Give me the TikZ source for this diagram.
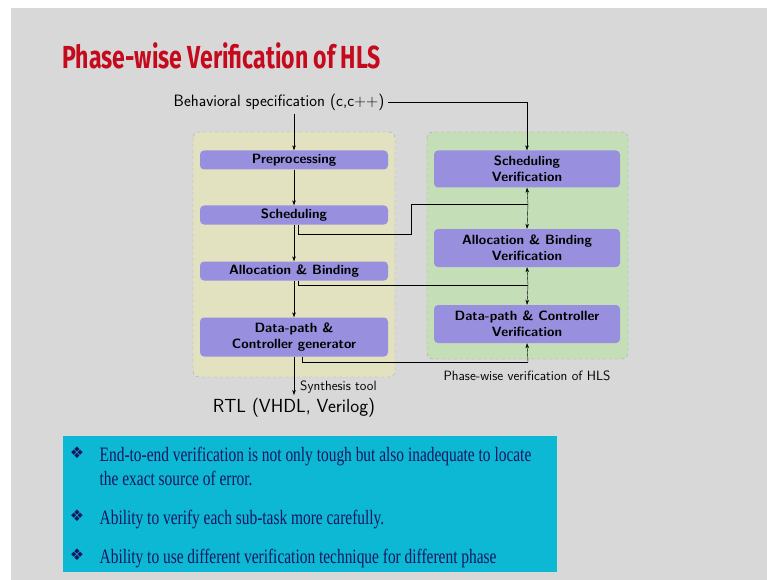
\documentclass[tikz,border=0pt]{standalone}
\usepackage{fontspec}
\newfontfamily\titlefont{Fira Sans}
\newfontfamily\bodyfont{Liberation Serif}
\newfontfamily\symfont{DejaVu Sans}
\usetikzlibrary{arrows.meta, positioning, calc}
\definecolor{slidegray}{RGB}{216,216,216}
\definecolor{titlered}{RGB}{196,10,28}
\definecolor{synthyellow}{RGB}{226,226,192}
\definecolor{verifgreen}{RGB}{196,222,184}
\definecolor{boxpurple}{RGB}{152,144,222}
\definecolor{notecyan}{RGB}{12,184,212}
\definecolor{notenavy}{RGB}{22,22,96}

\begin{document}
\begin{tikzpicture}[
    x=1bp, y=-1bp,
    >={Stealth[length=5bp, width=3.5bp]},
    phase/.style={fill=boxpurple, rounded corners=4bp, minimum width=188bp, inner sep=1bp,
        align=center, font=\sffamily\bfseries\fontsize{13.5}{16}\selectfont},
    container/.style={dashed, draw=gray!70, rounded corners=6bp},
    flow/.style={->, thin},
    small/.style={font=\sffamily\fontsize{13.5}{16}\selectfont},
    bullet/.style={anchor=center, text=notenavy, font=\symfont\fontsize{16}{16}\selectfont},
    note/.style={anchor=base west, text=notenavy, xscale=0.755, font=\bodyfont\fontsize{20.5}{24}\selectfont},
]
    % slide background
    \useasboundingbox (0,0) rectangle (767,580);
    \fill[white] (0,0) rectangle (767,580);
    \fill[slidegray] (11,8) rectangle (767,580);
    \node[anchor=base west, text=titlered, xscale=0.723, font=\titlefont\bfseries\fontsize{32}{36}\selectfont]
        (title) at (60,69) {Phase-wise Verification of HLS};

    % containers
    \draw[container, fill=synthyellow] (193,132) rectangle (395,377);
    \draw[container, fill=verifgreen] (427,132) rectangle (628,359);

    % synthesis flow
    \node[font=\sffamily\fontsize{16.5}{19}\selectfont] (spec) at (279,102) {Behavioral specification (c,c++)};
    \node[phase, minimum height=19bp] (pre) at (294,160) {Preprocessing};
    \node[phase, minimum height=19bp] (sch) at (294,215) {Scheduling};
    \node[phase, minimum height=19bp] (ab) at (294,271) {Allocation \& Binding};
    \node[phase, minimum height=39bp] (dp) at (294,337) {Data-path \&\\Controller generator};
    \node[font=\sffamily\fontsize{19}{22}\selectfont] (rtl) at (294,408) {RTL (VHDL, Verilog)};

    % verification flow
    \node[phase, minimum width=186bp, minimum height=37bp] (schv) at (527,169) {Scheduling\\Verification};
    \node[phase, minimum width=186bp, minimum height=38bp] (abv) at (527,248) {Allocation \& Binding\\Verification};
    \node[phase, minimum width=186bp, minimum height=38bp] (dpv) at (527,324) {Data-path \& Controller\\Verification};
    \node[small] (phl) at (527,376) {Phase-wise verification of HLS};

    % connectors
    \draw[flow] (pre.north |- spec.south) -- (pre.north);
    \draw[flow] (pre) -- (sch);
    \draw[flow] (sch) -- (ab);
    \draw[flow] (ab) -- (dp);
    \draw[flow] (dp) -- node[pos=0.8, right, xshift=4bp, inner sep=2bp, small]{Synthesis tool} (rtl);
    \draw[flow] (spec.east) -| (schv.north);

    \coordinate (schj) at (528,204);
    \coordinate (abj) at (528,285);
    \coordinate (dpj) at (528,362);
    \draw ($(sch.south)+(4,0)$) |- (411,234) |- (schj);
    \draw[flow] (schj) -- (schv.south);
    \draw[flow] (schj) -- (abv.north);
    \draw ($(ab.south)+(4,0)$) |- (abj);
    \draw[flow] (abj) -- (abv.south);
    \draw[flow] (abj) -- (dpv.north);
    \draw ($(dp.south)+(8,0)$) |- (dpj);
    \draw[flow] (dpj) -- (dpv.south);

    % notes
    \fill[notecyan] (63,436) rectangle (557,572);
    \node[bullet] (b1) at (77,453) {❖};
    \node[bullet] (b2) at (77,516) {❖};
    \node[bullet] (b3) at (77,555) {❖};
    \node[note] (n1) at (97,461) {End-to-end verification is not only tough but also inadequate to locate};
    \node[note] (n2) at (97,485) {the exact source of error.};
    \node[note] (n3) at (97,524) {Ability to verify each sub-task more carefully.};
    \node[note] (n4) at (97,563) {Ability to use different verification technique for different phase};
\end{tikzpicture}
\end{document}
